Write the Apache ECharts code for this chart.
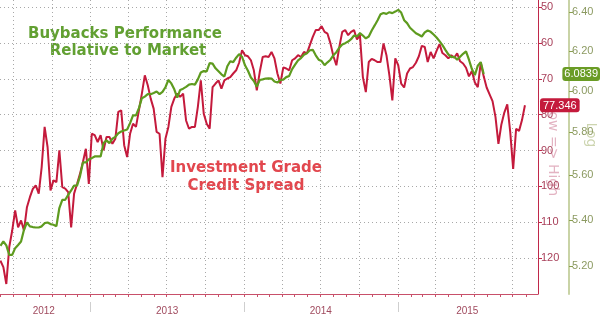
<!DOCTYPE html>
<html><head><meta charset="utf-8">
<script src="https://cdn.jsdelivr.net/npm/echarts@6/dist/echarts.min.js"></script>
<style>html,body{margin:0;padding:0;background:#fff}#c{width:600px;height:317px}</style>
</head><body><div id="c"></div>
<script>
// ---- data (weekly samples starting 2012-06-01) ----
const seriesStart = [2012, 5, 1];
const creditSpread = [
120.7,122.5,127.2,116.9,112.3,106.7,111.4,109.5,112.3,105.8,
103.0,100.7,99.7,102.0,94.6,83.4,89.0,101.1,98.3,98.8,
89.9,100.2,100.6,101.6,111.4,102.0,99.3,96.5,93.2,89.5,
99.3,85.3,85.7,87.6,85.7,89.9,86.2,86.2,88.1,86.7,
79.2,78.8,88.5,91.8,85.3,82.5,83.4,78.8,74.1,69.0,
71.8,75.5,78.3,84.8,85.3,97.4,86.7,83.4,77.8,75.5,
74.1,75.0,74.1,81.6,83.9,83.4,83.4,77.8,70.4,79.7,
82.5,83.9,72.3,71.3,70.4,72.7,70.4,69.9,69.5,68.5,
67.6,65.5,62.0,63.4,63.7,64.8,67.6,73.2,68.1,63.9,
63.7,63.9,62.5,64.3,68.5,71.3,66.8,67.1,67.6,64.8,
64.3,63.4,63.9,62.5,62.9,60.6,58.3,56.4,56.4,55.3,
56.9,57.4,60.1,63.7,66.2,61.1,56.9,56.4,57.8,56.9,
56.4,59.0,57.8,69.5,73.7,65.3,64.4,64.8,65.3,65.3,
60.1,63.4,69.0,76.0,64.3,66.2,71.3,72.4,68.5,67.1,
66.7,65.5,63.7,60.8,61.1,65.3,62.5,64.3,62.2,60.3,
62.8,63.4,64.3,63.4,64.1,62.9,65.1,65.7,66.9,69.3,
67.8,71.0,72.3,65.5,69.3,72.4,74.3,76.2,80.6,88.1,
82.7,79.4,77.1,84.8,95.1,83.9,84.5,81.5,77.346
];
const buybacksRel = [
5.286,5.305,5.288,5.247,5.247,5.276,5.29,5.305,5.356,5.388,
5.371,5.368,5.366,5.366,5.371,5.385,5.388,5.381,5.378,5.372,
5.452,5.489,5.489,5.511,5.531,5.553,5.553,5.595,5.659,5.659,
5.674,5.679,5.687,5.687,5.687,5.749,5.762,5.749,5.77,5.779,
5.796,5.804,5.809,5.814,5.844,5.881,5.881,5.916,5.964,5.972,
5.984,5.984,5.99,5.997,5.984,5.995,6.018,6.054,6.037,6.008,
5.967,6.005,6.011,6.02,6.031,6.034,6.031,6.057,6.091,6.098,
6.097,6.138,6.135,6.112,6.097,6.082,6.071,6.122,6.147,6.143,
6.165,6.183,6.17,6.127,6.1,6.066,6.049,6.021,6.054,6.057,
6.061,6.062,6.061,6.046,6.041,6.054,6.056,6.068,6.074,6.108,
6.13,6.152,6.163,6.18,6.188,6.203,6.205,6.177,6.155,6.148,
6.128,6.142,6.155,6.178,6.193,6.216,6.232,6.239,6.247,6.259,
6.278,6.273,6.29,6.278,6.263,6.273,6.304,6.33,6.357,6.388,
6.395,6.39,6.399,6.394,6.402,6.411,6.397,6.357,6.342,6.318,
6.304,6.29,6.282,6.273,6.294,6.304,6.297,6.283,6.268,6.249,
6.229,6.205,6.182,6.168,6.17,6.155,6.17,6.185,6.197,6.155,
6.108,6.078,6.125,6.143,6.0839
];
const spreadTicks = [50, 60, 70, 80, 90, 100, 110, 120];
const buybackTicks = [5.2, 5.4, 5.6, 5.8, 6.0, 6.2, 6.4];
const quarterStarts = ['2012-07-01','2012-10-01','2013-01-01','2013-04-01','2013-07-01','2013-10-01',
  '2014-01-01','2014-04-01','2014-07-01','2014-10-01','2015-01-01','2015-04-01','2015-07-01','2015-10-01'];
const yearStarts = ['2013-01-01','2014-01-01','2015-01-01'];
const yearLabelDates = ['2012-09-12','2013-07-02','2014-07-02','2015-06-15'];
const yearLabels = ['2012','2013','2014','2015'];
const xMin = '2012-05-31', xMax = '2015-11-30';

function ts(s){ const p = s.split('-').map(Number); return new Date(p[0], p[1]-1, p[2]).getTime(); }
function weekDate(i){ return new Date(seriesStart[0], seriesStart[1], seriesStart[2] + 7*i).getTime(); }
const redData = creditSpread.map((v,i)=>[weekDate(i), v]);
const greenData = buybacksRel.map((v,i)=>[weekDate(i), v]);
const monthStarts = [];
for (let y=2012; y<=2015; y++) for (let m=0; m<12; m++) monthStarts.push(new Date(y,m,1).getTime());
const X0 = ts(xMin), X1 = ts(xMax);
const monthTicks = monthStarts.filter(t => t >= X0 && t <= X1);
const quarterTicks = quarterStarts.map(ts);
const yearTicks = yearStarts.map(ts);
const yearLabelTicks = yearLabelDates.map(ts);

const RED = '#c41a3c', GREEN = '#5e9b1f';
const chart = echarts.init(document.getElementById('c'), null, {renderer:'canvas'});
chart.setOption({
  animation: false,
  backgroundColor: '#fff',
  grid: {left: 0, right: 62, top: 0, bottom: 23, containLabel: false},
  xAxis: [
    {type:'value', min:X0, max:X1, position:'bottom',
     axisLine:{show:true, lineStyle:{color:'#c8506a', width:1}},
     axisTick:{show:true, length:3, customValues: monthTicks, lineStyle:{color:'#c8506a'}},
     axisLabel:{show:false}, splitLine:{show:false}},
    {type:'value', min:X0, max:X1, position:'bottom',
     axisLine:{show:false}, axisTick:{show:false, customValues: quarterTicks},
     axisLabel:{show:false},
     splitLine:{show:true, lineStyle:{color:'#a8a8a8', type:[1,3], width:1}}},
    {type:'value', min:X0, max:X1, position:'bottom', offset:8,
     axisLine:{show:false},
     axisTick:{show:true, length:10, customValues: yearTicks, lineStyle:{color:'#cfcfcf'}},
     axisLabel:{show:true, customValues: yearLabelTicks, margin:4, color:'#a04a5e',
       fontFamily:'Liberation Sans', fontSize:10,
       formatter: v => yearLabels[yearLabelTicks.indexOf(v)] || String(new Date(v).getFullYear())},
     splitLine:{show:false}}
  ],
  yAxis: [
    {type:'value', inverse:true, min:48, max:130, position:'right',
     axisLine:{show:true, lineStyle:{color:'#c0284a', width:1}},
     axisTick:{show:true, length:4, customValues: spreadTicks, lineStyle:{color:'#c0284a'}},
     axisLabel:{show:true, customValues: spreadTicks, margin:3, color:'#a8405a',
       fontFamily:'Liberation Sans', fontSize:11},
     splitLine:{show:true, lineStyle:{color:'#a8a8a8', type:[1,3], width:1}},
     axisPointer:{show:true, status:'show', value: creditSpread[creditSpread.length-1],
       snap:false, triggerTooltip:false, lineStyle:{opacity:0},
       label:{show:true, formatter: p => Number(p.value).toFixed(3), backgroundColor: RED,
         color:'#fff', padding:[2,3,1,3], fontSize:11, fontFamily:'Liberation Sans', margin:2}}},
    {type:'log', logBase:10, min:5.082, max:6.463, position:'right', offset:31,
     axisLine:{show:true, lineStyle:{color:'#c9d3a6', width:2}},
     axisTick:{show:true, length:4, customValues: buybackTicks, lineStyle:{color:'#8aa050'}},
     axisLabel:{show:true, customValues: buybackTicks, margin:3, color:'#8c9a62',
       fontFamily:'Liberation Sans', fontSize:11, formatter: v => Number(v).toFixed(2)},
     splitLine:{show:false},
     axisPointer:{show:true, status:'show', value: buybacksRel[buybacksRel.length-1],
       snap:false, triggerTooltip:false, lineStyle:{opacity:0},
       label:{show:true, formatter: p => Number(p.value).toFixed(4), backgroundColor: '#6a9c25',
         color:'#fff', padding:[2,2,1,2], fontSize:11, fontFamily:'Liberation Sans', margin:0}}}
  ],
  axisPointer: {triggerOn: 'none'},
  series: [
    {type:'line', name:'Investment Grade Credit Spread', xAxisIndex:0, yAxisIndex:0, data: redData,
     showSymbol:false, symbol:'none', lineStyle:{color:RED, width:2}, z:3},
    {type:'line', name:'Buybacks Performance Relative to Market', xAxisIndex:0, yAxisIndex:1, data: greenData,
     showSymbol:false, symbol:'none', lineStyle:{color:GREEN, width:2.2}, z:4}
  ],
  graphic: [
    {type:'text', x:125, y:34, style:{text:'Buybacks Performance', fill:'#62a032',
      font:'bold 15px "DejaVu Sans"', align:'center', verticalAlign:'middle'}},
    {type:'text', x:128, y:51, style:{text:'Relative to Market', fill:'#62a032',
      font:'bold 15px "DejaVu Sans"', align:'center', verticalAlign:'middle'}},
    {type:'text', x:246, y:168, style:{text:'Investment Grade', fill:'#e2474e',
      font:'bold 15px "DejaVu Sans"', align:'center', verticalAlign:'middle'}},
    {type:'text', x:246, y:186, style:{text:'Credit Spread', fill:'#e2474e',
      font:'bold 15px "DejaVu Sans"', align:'center', verticalAlign:'middle'}},
    {type:'text', x:553, y:150, rotation:-Math.PI/2, style:{text:'Low => High', fill:'#e3b3c2',
      font:'14px "DejaVu Sans"', align:'center', verticalAlign:'middle'}},
    {type:'text', x:591, y:135, rotation:-Math.PI/2, style:{text:'Log', fill:'#cdd5b0',
      font:'14px "DejaVu Sans"', align:'center', verticalAlign:'middle'}}
  ]
});
</script></body></html>
